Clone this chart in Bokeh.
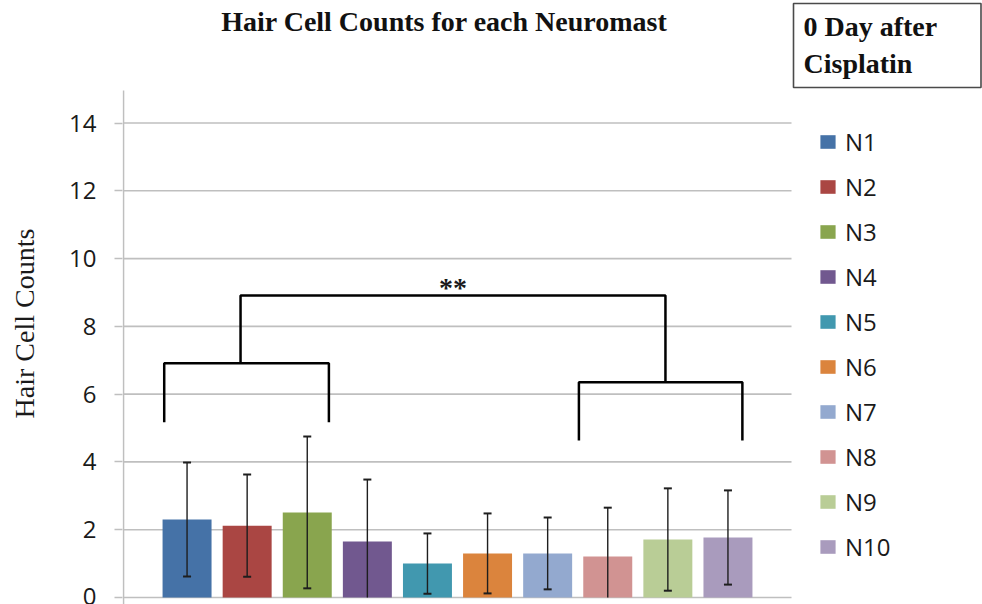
from bokeh.plotting import figure
from bokeh.models import (ColumnDataSource, FixedTicker, Legend, LegendItem,
                          Range1d, Label, BoxAnnotation)
from bokeh.core.properties import value
from bokeh.embed import file_html
from bokeh.resources import INLINE

# ---- data ----
names = ["N1", "N2", "N3", "N4", "N5", "N6", "N7", "N8", "N9", "N10"]
means = [2.30, 2.12, 2.51, 1.65, 1.00, 1.30, 1.30, 1.21, 1.71, 1.77]
errors = [1.68, 1.51, 2.24, 1.83, 0.89, 1.18, 1.06, 1.44, 1.51, 1.39]
colors = ["#4572A7", "#AA4643", "#89A54E", "#71588F", "#4198AF",
          "#DB843D", "#93A9CF", "#D19392", "#B9CD96", "#A99BBD"]
y_ticks = [0, 2, 4, 6, 8, 10, 12, 14]

title_text = "Hair Cell Counts for each Neuromast"
note_lines = ["0 Day after", "Cisplatin"]
y_label = "Hair Cell Counts"

# significance brackets (x in bar-slot units, y in counts)
left_bracket_x = [0.12, 2.86]
left_bracket_y = [5.17, 6.91]
right_bracket_x = [7.02, 9.74]
right_bracket_y = [4.63, 6.35]
top_bracket_x = [1.39, 8.46]
top_bracket_y = 8.91
sig_label = "**"

# plot-area extent in data units (Excel-like value axis 0..~15)
x_lo, x_hi = -0.5575, 10.5575
y_lo, y_hi = -0.207, 14.96

xpos = [i + 0.5 for i in range(len(names))]
upper = [m + e for m, e in zip(means, errors)]
lower = [max(m - e, 0.0) for m, e in zip(means, errors)]
cap_x = [x for x, m, e in zip(xpos, means, errors) if m - e >= 0]
cap_lower = [m - e for m, e in zip(means, errors) if m - e >= 0]

src = ColumnDataSource(dict(x=xpos, names=names, means=means, upper=upper,
                            lower=lower, colors=colors))

W, H = 982, 604
LEFT = 122
PX_X = 60.1     # pixels per bar slot
PX_Y = 33.89    # pixels per count
TEXT = "#111111"
GRID = "#bfbfbf"
ERR = "#1e1e1e"

p = figure(width=W, height=H, output_backend="svg", toolbar_location=None,
           x_range=Range1d(x_lo - 1 / PX_X, x_lo + (W - LEFT - 1) / PX_X),
           y_range=Range1d(y_lo, y_lo + H / PX_Y),
           min_border_left=LEFT, min_border_right=0,
           min_border_top=0, min_border_bottom=0)
p.outline_line_color = None
p.background_fill_color = "white"
p.border_fill_color = "white"
p.xaxis.visible = False
p.xgrid.visible = False
p.ygrid.visible = False

# value-axis gridlines, axis line and baseline
p.segment(x0=[x_lo] * len(y_ticks), x1=[x_hi] * len(y_ticks),
          y0=y_ticks, y1=y_ticks, line_color=GRID, line_width=1.6)
p.segment(x0=[x_lo], x1=[x_lo], y0=[y_lo], y1=[y_hi],
          line_color=GRID, line_width=1.6)

bars = p.vbar(x="x", top="means", bottom=0, width=0.815, source=src,
              fill_color="colors", line_color=None)

# error bars
p.segment(x0="x", x1="x", y0="lower", y1="upper", source=src,
          line_color=ERR, line_width=1.4)
p.scatter(x="x", y="upper", source=src, marker="dash", size=8,
          line_color=ERR, line_width=2)
p.scatter(x=cap_x, y=cap_lower, marker="dash", size=8,
          line_color=ERR, line_width=2)

# brackets
bx = [[left_bracket_x[0], left_bracket_x[0], left_bracket_x[1], left_bracket_x[1]],
      [right_bracket_x[0], right_bracket_x[0], right_bracket_x[1], right_bracket_x[1]],
      [top_bracket_x[0], top_bracket_x[0], top_bracket_x[1], top_bracket_x[1]]]
by = [[left_bracket_y[0], left_bracket_y[1], left_bracket_y[1], left_bracket_y[0]],
      [right_bracket_y[0], right_bracket_y[1], right_bracket_y[1], right_bracket_y[0]],
      [left_bracket_y[1], top_bracket_y, top_bracket_y, right_bracket_y[1]]]
p.multi_line(xs=bx, ys=by, line_color="black", line_width=2.5)
p.text(x=[(top_bracket_x[0] + top_bracket_x[1]) / 2], y=[9.15], text=[sig_label],
       text_align="center", text_baseline="alphabetic",
       text_font=value("Liberation Serif"), text_font_style="bold",
       text_font_size="28px", text_color="#1a1a1a")

# value axis (ticks + labels)
p.yaxis.ticker = FixedTicker(ticks=y_ticks)
p.yaxis.minor_tick_line_color = None
p.yaxis.major_tick_out = 8
p.yaxis.major_tick_in = 0
p.yaxis.major_tick_line_color = GRID
p.yaxis.major_tick_line_width = 1.6
p.yaxis.axis_line_color = None
p.yaxis.major_label_standoff = 18
p.yaxis.major_label_text_font = "Open Sans"
p.yaxis.major_label_text_font_size = "24px"
p.yaxis.major_label_text_color = "#1a1a1a"
p.yaxis.axis_label = y_label + "\u00a0" * 6
p.yaxis.axis_label_text_font = "Liberation Serif"
p.yaxis.axis_label_text_font_style = "normal"
p.yaxis.axis_label_text_font_size = "28px"
p.yaxis.axis_label_text_color = "#1a1a1a"
p.yaxis.axis_label_standoff = 26

# legend
items = [LegendItem(label=n, renderers=[bars], index=i) for i, n in enumerate(names)]
lg = Legend(items=items, location=(818 - LEFT, 41.5), padding=0, margin=0,
            border_line_color=None, background_fill_alpha=0,
            glyph_width=19, glyph_height=17, label_height=33, spacing=12,
            label_standoff=8, label_text_font="Open Sans",
            label_text_font_size="24px", label_text_color="#1a1a1a")
p.add_layout(lg)

# header: title and boxed note (canvas pixel units)
p.add_layout(BoxAnnotation(left=793, right=980.5, top=3, bottom=87,
                           left_units="canvas", right_units="canvas",
                           top_units="canvas", bottom_units="canvas",
                           fill_color="white", fill_alpha=1.0,
                           line_color="#4a4a4a", line_alpha=1.0,
                           line_width=1.6))
p.add_layout(Label(x=444, y=20.5, x_units="canvas", y_units="canvas",
                   text=title_text, text_align="center",
                   text_baseline="alphabetic", text_font="Liberation Serif",
                   text_font_style="bold", text_font_size="28px",
                   text_color=TEXT))
for txt, yy in zip(note_lines, [26, 63]):
    p.add_layout(Label(x=803, y=yy, x_units="canvas", y_units="canvas",
                       text=txt, text_align="left",
                       text_baseline="alphabetic", text_font="Liberation Serif",
                       text_font_style="bold", text_font_size="28px",
                       text_color=TEXT))

open("out.html", "w").write(file_html(p, INLINE))
